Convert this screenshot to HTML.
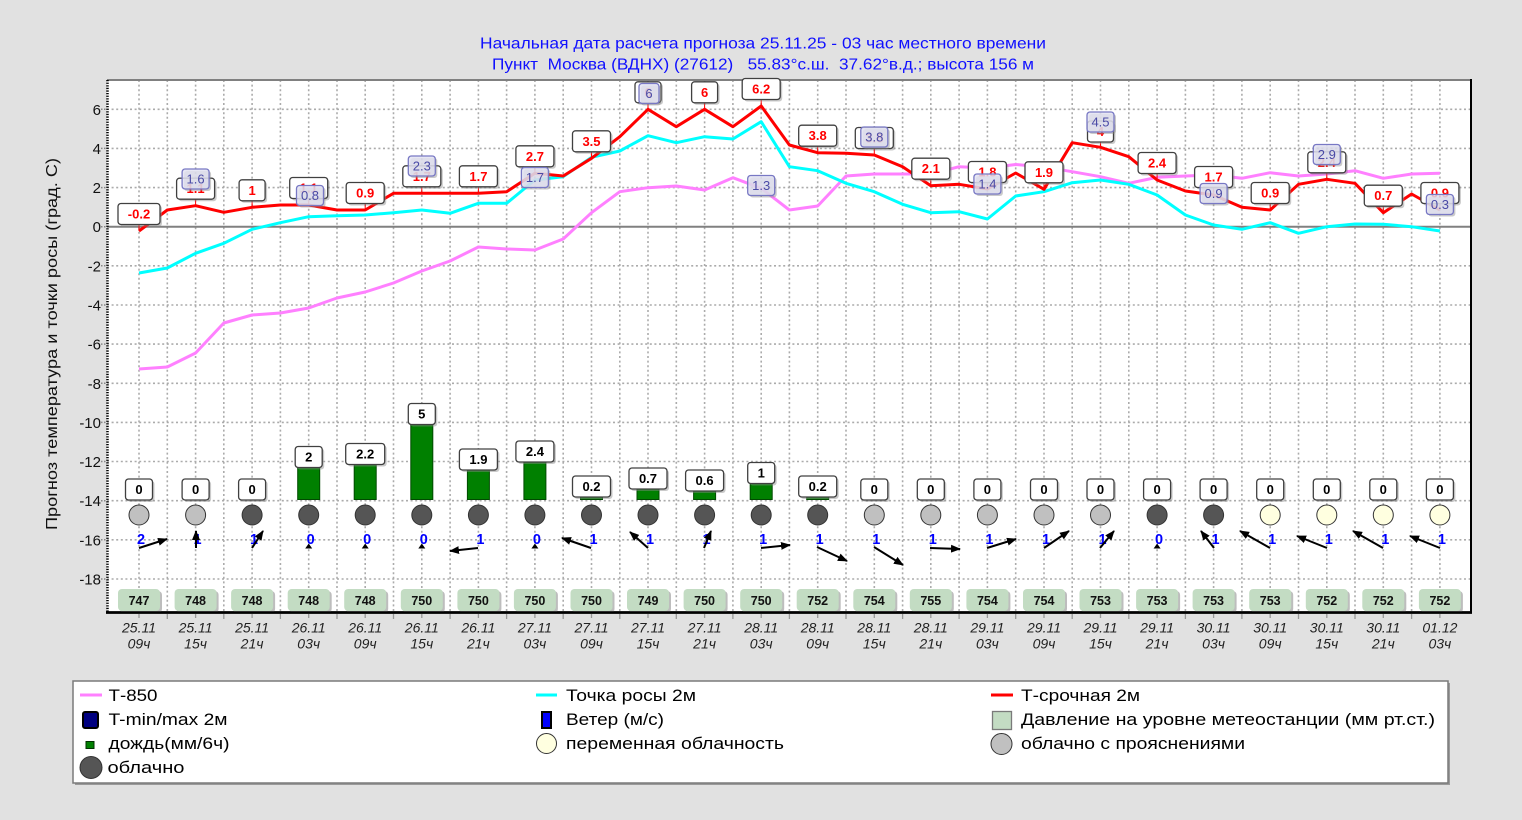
<!DOCTYPE html>
<html><head><meta charset="utf-8">
<style>
html,body{margin:0;padding:0;background:#e1e1e1;}
svg{display:block;font-family:"Liberation Sans",Arial,sans-serif;}
.sh{fill:#8a8a8a;opacity:.45}
.rb{fill:#fff;stroke:#404040;stroke-width:1.3}
.rt{fill:#f00;font-size:13px;font-weight:bold;text-anchor:middle}
.bb{fill:#e2e2f2;fill-opacity:.82;stroke:#7878c4;stroke-width:1.3}
.bt{fill:#4a4aa6;font-size:13px;text-anchor:middle}
.pt{fill:#000;font-size:13px;font-weight:bold;text-anchor:middle}
.pr{fill:#c3dcc3;}
.prt{fill:#111;font-size:12.5px;font-weight:bold;text-anchor:middle}
.xl{fill:#222;font-size:14px;font-style:italic;text-anchor:middle}
.yl{fill:#111;font-size:15px;text-anchor:end}
.wn{fill:#0000ff;font-size:14.5px;font-weight:bold;text-anchor:middle}
.lg{fill:#000;font-size:17px}
.cl{fill:#c0c0c0;stroke:#333;stroke-width:1}
.cd{fill:#555;stroke:#333;stroke-width:1}
.cy{fill:#ffffe0;stroke:#333;stroke-width:1}
.ar{stroke:#000;stroke-width:2;marker-end:url(#ah)}
</style></head>
<body>
<svg width="1522" height="820" viewBox="0 0 1522 820" xmlns="http://www.w3.org/2000/svg">
<defs>
<marker id="ah" markerUnits="userSpaceOnUse" markerWidth="10" markerHeight="8" refX="9" refY="4" orient="auto"><path d="M0,0 L10,4 L0,8 z" fill="#000"/></marker>
</defs>
<rect x="0" y="0" width="1522" height="820" fill="#e1e1e1"/>

<!-- title -->
<text x="763" y="48.5" font-size="16" fill="#1010ff" text-anchor="middle" textLength="566" lengthAdjust="spacingAndGlyphs">Начальная дата расчета прогноза 25.11.25 - 03 час местного времени</text>
<text x="763" y="69.5" font-size="16" fill="#1010ff" text-anchor="middle" textLength="542" lengthAdjust="spacingAndGlyphs" style="white-space:pre">Пункт  Москва (ВДНХ) (27612)   55.83°с.ш.  37.62°в.д.; высота 156 м</text>

<!-- plot area -->
<rect x="107" y="80" width="1364" height="532" fill="#fff"/>

<!-- grid -->
<path d="M107 109.3H1471M107 148.4H1471M107 187.6H1471M107 265.8H1471M107 305H1471M107 344.1H1471M107 383.3H1471M107 422.4H1471M107 461.5H1471M107 500.7H1471M107 539.8H1471M107 579H1471" stroke="#ababab" stroke-width="1.6" stroke-dasharray="2 2.6" fill="none"/>
<path d="M139 80V612M167.3 80V612M195.6 80V612M223.8 80V612M252.1 80V612M280.4 80V612M308.7 80V612M337 80V612M365.2 80V612M393.5 80V612M421.8 80V612M450.1 80V612M478.4 80V612M506.6 80V612M534.9 80V612M563.2 80V612M591.5 80V612M619.8 80V612M648 80V612M676.3 80V612M704.6 80V612M732.9 80V612M761.2 80V612M789.4 80V612M817.7 80V612M846 80V612M874.3 80V612M902.6 80V612M930.8 80V612M959.1 80V612M987.4 80V612M1015.7 80V612M1044 80V612M1072.2 80V612M1100.5 80V612M1128.8 80V612M1157.1 80V612M1185.4 80V612M1213.6 80V612M1241.9 80V612M1270.2 80V612M1298.5 80V612M1326.8 80V612M1355 80V612M1383.3 80V612M1411.6 80V612M1439.9 80V612" stroke="#ababab" stroke-width="1.6" stroke-dasharray="2 2.6" fill="none"/>
<line x1="107" y1="226.7" x2="1471" y2="226.7" stroke="#808080" stroke-width="2"/>

<!-- axes -->
<line x1="107" y1="80" x2="1471" y2="80" stroke="#808080" stroke-width="2"/>
<line x1="1471" y1="79" x2="1471" y2="613" stroke="#000" stroke-width="2"/>
<line x1="107.5" y1="80" x2="107.5" y2="613" stroke="#000" stroke-width="2.5" stroke-dasharray="1.3 1.3"/>
<line x1="106" y1="612.5" x2="1472" y2="612.5" stroke="#000" stroke-width="2.5"/>
<path d="M101 109.3H107M101 148.4H107M101 187.6H107M101 226.7H107M101 265.8H107M101 305H107M101 344.1H107M101 383.3H107M101 422.4H107M101 461.5H107M101 500.7H107M101 539.8H107M101 579H107" stroke="#888" stroke-width="1.5" stroke-dasharray="1.5 1.5"/>
<path d="M139 614v4M167.3 614v5M195.6 614v4M223.8 614v5M252.1 614v4M280.4 614v5M308.7 614v4M337 614v5M365.2 614v4M393.5 614v5M421.8 614v4M450.1 614v5M478.4 614v4M506.6 614v5M534.9 614v4M563.2 614v5M591.5 614v4M619.8 614v5M648 614v4M676.3 614v5M704.6 614v4M732.9 614v5M761.2 614v4M789.4 614v5M817.7 614v4M846 614v5M874.3 614v4M902.6 614v5M930.8 614v4M959.1 614v5M987.4 614v4M1015.7 614v5M1044 614v4M1072.2 614v5M1100.5 614v4M1128.8 614v5M1157.1 614v4M1185.4 614v5M1213.6 614v4M1241.9 614v5M1270.2 614v4M1298.5 614v5M1326.8 614v4M1355 614v5M1383.3 614v4M1411.6 614v5M1439.9 614v4" stroke="#999" stroke-width="1.3"/>

<!-- y tick labels -->
<text class="yl" x="101" y="114.8">6</text>
<text class="yl" x="101" y="153.9">4</text>
<text class="yl" x="101" y="193.1">2</text>
<text class="yl" x="101" y="232.2">0</text>
<text class="yl" x="101" y="271.3">-2</text>
<text class="yl" x="101" y="310.5">-4</text>
<text class="yl" x="101" y="349.6">-6</text>
<text class="yl" x="101" y="388.8">-8</text>
<text class="yl" x="101" y="427.9">-10</text>
<text class="yl" x="101" y="467">-12</text>
<text class="yl" x="101" y="506.2">-14</text>
<text class="yl" x="101" y="545.3">-16</text>
<text class="yl" x="101" y="584.5">-18</text>

<!-- y axis title -->
<text transform="translate(57,344) rotate(-90)" font-size="16" fill="#111" text-anchor="middle" textLength="372" lengthAdjust="spacingAndGlyphs">Прогноз температура и точки росы (град. С)</text>

<!-- series -->
<polyline fill="none" stroke="#ff80ff" stroke-width="3" stroke-linejoin="round" points="139,369 167.3,367 195.6,353 223.8,323 252.1,315 280.4,313 308.7,308 337,298 365.2,292 393.5,283 421.8,271 450.1,261 478.4,247 506.6,249 534.9,250 563.2,239 591.5,212.7 619.8,191.7 648,187.7 676.3,186 704.6,190 732.9,177.7 761.2,188.3 789.4,210 817.7,206 846,176 874.3,174 902.6,174 930.8,174 959.1,166.7 987.4,168 1015.7,164.5 1044,167 1072.2,171.7 1100.5,176.7 1128.8,183.3 1157.1,177.3 1185.4,176 1213.6,175 1241.9,178.3 1270.2,172.7 1298.5,176 1326.8,174 1355,170.7 1383.3,178.3 1411.6,174 1439.9,173.3"/>
<polyline fill="none" stroke="#00ffff" stroke-width="3" stroke-linejoin="round" points="139,273 167.3,268 195.6,253.3 223.8,243.3 252.1,229.3 280.4,222.7 308.7,216.7 337,215.7 365.2,215 393.5,212.7 421.8,210 450.1,213.3 478.4,203.3 506.6,203.3 534.9,180 563.2,176.7 591.5,157.3 619.8,151 648,135.7 676.3,142.7 704.6,136.7 732.9,139 761.2,121.7 789.4,166.7 817.7,170.7 846,183.3 874.3,191.7 902.6,204.3 930.8,212.7 959.1,211.7 987.4,219 1015.7,196 1044,191.7 1072.2,182.7 1100.5,180 1128.8,184.3 1157.1,195 1185.4,215 1213.6,225 1241.9,229.3 1270.2,222.7 1298.5,233.3 1326.8,226.7 1355,224 1383.3,224.3 1411.6,226.7 1439.9,231"/>
<polyline fill="none" stroke="#ff0000" stroke-width="3" stroke-linejoin="round" points="139,231 167.3,210 195.6,205.7 223.8,212.3 252.1,207.3 280.4,205 308.7,205 337,210 365.2,210 393.5,193.3 421.8,193.3 450.1,193.3 478.4,193.3 506.6,191.7 534.9,173.3 563.2,176 591.5,158.3 619.8,136.7 648,109.3 676.3,126.7 704.6,109.3 732.9,126.7 761.2,106 789.4,145 817.7,152.7 846,153.3 874.3,155 902.6,166.7 930.8,185.7 959.1,184.3 987.4,189 1015.7,173 1044,189.3 1072.2,142.7 1100.5,147.3 1128.8,156.7 1157.1,180 1185.4,191 1213.6,195 1241.9,207.3 1270.2,210 1298.5,184.3 1326.8,179.3 1355,183.3 1383.3,212.7 1411.6,194 1439.9,210"/>

<!-- red connectors -->
<path d="M139 224.5V231M195.6 199.2V205.7M252.1 200.8V207.3M308.7 198.5V205M365.2 203.5V210M421.8 186.8V193.3M478.4 186.8V193.3M534.9 166.8V173.3M591.5 151.8V158.3M648 102.8V109.3M704.6 102.8V109.3M761.2 99.5V106M817.7 146.2V152.7M874.3 148.5V155M930.8 179.2V185.7M987.4 182.5V189M1044 182.8V189.3M1100.5 142V147.3M1157.1 173.5V180M1213.6 187.5V195M1270.2 203.5V210M1326.8 172.8V179.3M1383.3 206.2V212.7M1439.9 203.5V210" stroke="#f00" stroke-width="1"/>

<!-- red labels -->
<g>
<rect class="sh" x="120" y="205.5" width="42" height="21" rx="3"/><rect class="rb" x="118" y="203.5" width="42" height="21" rx="3"/><text class="rt" x="139" y="218.5">-0.2</text>
<rect class="sh" x="178.6" y="180.2" width="38" height="21" rx="3"/><rect class="rb" x="176.6" y="178.2" width="38" height="21" rx="3"/><text class="rt" x="195.6" y="193.2">1.1</text>
<rect class="sh" x="241.1" y="181.8" width="26" height="21" rx="3"/><rect class="rb" x="239.1" y="179.8" width="26" height="21" rx="3"/><text class="rt" x="252.1" y="194.8">1</text>
<rect class="sh" x="291.7" y="179.5" width="38" height="21" rx="3"/><rect class="rb" x="289.7" y="177.5" width="38" height="21" rx="3"/><text class="rt" x="308.7" y="192.5">1.1</text>
<rect class="sh" x="348.2" y="184.5" width="38" height="21" rx="3"/><rect class="rb" x="346.2" y="182.5" width="38" height="21" rx="3"/><text class="rt" x="365.2" y="197.5">0.9</text>
<rect class="sh" x="404.8" y="167.8" width="38" height="21" rx="3"/><rect class="rb" x="402.8" y="165.8" width="38" height="21" rx="3"/><text class="rt" x="421.8" y="180.8">1.7</text>
<rect class="sh" x="461.4" y="167.8" width="38" height="21" rx="3"/><rect class="rb" x="459.4" y="165.8" width="38" height="21" rx="3"/><text class="rt" x="478.4" y="180.8">1.7</text>
<rect class="sh" x="517.9" y="147.8" width="38" height="21" rx="3"/><rect class="rb" x="515.9" y="145.8" width="38" height="21" rx="3"/><text class="rt" x="534.9" y="160.8">2.7</text>
<rect class="sh" x="574.5" y="132.8" width="38" height="21" rx="3"/><rect class="rb" x="572.5" y="130.8" width="38" height="21" rx="3"/><text class="rt" x="591.5" y="145.8">3.5</text>
<rect class="sh" x="637" y="83.8" width="26" height="21" rx="3"/><rect class="rb" x="635" y="81.8" width="26" height="21" rx="3"/><text class="rt" x="648" y="96.8">6</text>
<rect class="sh" x="693.6" y="83.8" width="26" height="21" rx="3"/><rect class="rb" x="691.6" y="81.8" width="26" height="21" rx="3"/><text class="rt" x="704.6" y="96.8">6</text>
<rect class="sh" x="744.2" y="80.5" width="38" height="21" rx="3"/><rect class="rb" x="742.2" y="78.5" width="38" height="21" rx="3"/><text class="rt" x="761.2" y="93.5">6.2</text>
<rect class="sh" x="800.7" y="127.2" width="38" height="21" rx="3"/><rect class="rb" x="798.7" y="125.2" width="38" height="21" rx="3"/><text class="rt" x="817.7" y="140.2">3.8</text>
<rect class="sh" x="857.3" y="129.5" width="38" height="21" rx="3"/><rect class="rb" x="855.3" y="127.5" width="38" height="21" rx="3"/><text class="rt" x="874.3" y="142.5">3.8</text>
<rect class="sh" x="913.8" y="160.2" width="38" height="21" rx="3"/><rect class="rb" x="911.8" y="158.2" width="38" height="21" rx="3"/><text class="rt" x="930.8" y="173.2">2.1</text>
<rect class="sh" x="970.4" y="163.5" width="38" height="21" rx="3"/><rect class="rb" x="968.4" y="161.5" width="38" height="21" rx="3"/><text class="rt" x="987.4" y="176.5">1.8</text>
<rect class="sh" x="1027" y="163.8" width="38" height="21" rx="3"/><rect class="rb" x="1025" y="161.8" width="38" height="21" rx="3"/><text class="rt" x="1044" y="176.8">1.9</text>
<rect class="sh" x="1089.5" y="123" width="26" height="21" rx="3"/><rect class="rb" x="1087.5" y="121" width="26" height="21" rx="3"/><text class="rt" x="1100.5" y="136">4</text>
<rect class="sh" x="1140.1" y="154.5" width="38" height="21" rx="3"/><rect class="rb" x="1138.1" y="152.5" width="38" height="21" rx="3"/><text class="rt" x="1157.1" y="167.5">2.4</text>
<rect class="sh" x="1196.6" y="168.5" width="38" height="21" rx="3"/><rect class="rb" x="1194.6" y="166.5" width="38" height="21" rx="3"/><text class="rt" x="1213.6" y="181.5">1.7</text>
<rect class="sh" x="1253.2" y="184.5" width="38" height="21" rx="3"/><rect class="rb" x="1251.2" y="182.5" width="38" height="21" rx="3"/><text class="rt" x="1270.2" y="197.5">0.9</text>
<rect class="sh" x="1309.8" y="153.8" width="38" height="21" rx="3"/><rect class="rb" x="1307.8" y="151.8" width="38" height="21" rx="3"/><text class="rt" x="1326.8" y="166.8">2.4</text>
<rect class="sh" x="1366.3" y="187.2" width="38" height="21" rx="3"/><rect class="rb" x="1364.3" y="185.2" width="38" height="21" rx="3"/><text class="rt" x="1383.3" y="200.2">0.7</text>
<rect class="sh" x="1422.9" y="184.5" width="38" height="21" rx="3"/><rect class="rb" x="1420.9" y="182.5" width="38" height="21" rx="3"/><text class="rt" x="1439.9" y="197.5">0.9</text>
</g>

<!-- blue min/max labels -->
<g>
<rect class="sh" x="184.1" y="171" width="27" height="20" rx="3"/><rect class="bb" x="182.1" y="169" width="27" height="20" rx="3"/><text class="bt" x="195.6" y="183.5">1.6</text>
<rect class="sh" x="298.5" y="187.5" width="27" height="20" rx="3"/><rect class="bb" x="296.5" y="185.5" width="27" height="20" rx="3"/><text class="bt" x="310" y="200">0.8</text>
<rect class="sh" x="410.3" y="158" width="27" height="20" rx="3"/><rect class="bb" x="408.3" y="156" width="27" height="20" rx="3"/><text class="bt" x="421.8" y="170.5">2.3</text>
<rect class="sh" x="523.4" y="169.5" width="27" height="20" rx="3"/><rect class="bb" x="521.4" y="167.5" width="27" height="20" rx="3"/><text class="bt" x="534.9" y="182">1.7</text>
<rect class="sh" x="641" y="85.5" width="20" height="20" rx="3"/><rect class="bb" x="639" y="83.5" width="20" height="20" rx="3"/><text class="bt" x="649" y="98">6</text>
<rect class="sh" x="749.7" y="177.5" width="27" height="20" rx="3"/><rect class="bb" x="747.7" y="175.5" width="27" height="20" rx="3"/><text class="bt" x="761.2" y="190">1.3</text>
<rect class="sh" x="862.8" y="129" width="27" height="20" rx="3"/><rect class="bb" x="860.8" y="127" width="27" height="20" rx="3"/><text class="bt" x="874.3" y="141.5">3.8</text>
<rect class="sh" x="975.9" y="176" width="27" height="20" rx="3"/><rect class="bb" x="973.9" y="174" width="27" height="20" rx="3"/><text class="bt" x="987.4" y="188.5">1.4</text>
<rect class="sh" x="1089" y="114" width="27" height="20" rx="3"/><rect class="bb" x="1087" y="112" width="27" height="20" rx="3"/><text class="bt" x="1100.5" y="126.5">4.5</text>
<rect class="sh" x="1202.1" y="185.5" width="27" height="20" rx="3"/><rect class="bb" x="1200.1" y="183.5" width="27" height="20" rx="3"/><text class="bt" x="1213.6" y="198">0.9</text>
<rect class="sh" x="1315.3" y="146.5" width="27" height="20" rx="3"/><rect class="bb" x="1313.3" y="144.5" width="27" height="20" rx="3"/><text class="bt" x="1326.8" y="159">2.9</text>
<rect class="sh" x="1428.4" y="196.5" width="27" height="20" rx="3"/><rect class="bb" x="1426.4" y="194.5" width="27" height="20" rx="3"/><text class="bt" x="1439.9" y="209">0.3</text>
</g>

<!-- precipitation bars -->
<g fill="#008000" stroke="#004a00" stroke-width="1">
<rect x="297.7" y="467.5" width="22" height="32"/>
<rect x="354.2" y="464.5" width="22" height="35"/>
<rect x="410.8" y="424.5" width="22" height="75"/>
<rect x="467.4" y="470" width="22" height="29.5"/>
<rect x="523.9" y="462" width="22" height="37.5"/>
<rect x="580.5" y="496" width="22" height="3.5"/>
<rect x="637" y="488" width="22" height="11.5"/>
<rect x="693.6" y="490" width="22" height="9.5"/>
<rect x="750.2" y="483.5" width="22" height="16"/>
<rect x="806.7" y="496" width="22" height="3.5"/>
</g>

<!-- precipitation labels -->
<g>
<rect class="sh" x="127.5" y="481" width="27" height="21" rx="3"/><rect class="rb" x="125.5" y="479" width="27" height="21" rx="3"/><text class="pt" x="139" y="494">0</text>
<rect class="sh" x="184.1" y="481" width="27" height="21" rx="3"/><rect class="rb" x="182.1" y="479" width="27" height="21" rx="3"/><text class="pt" x="195.6" y="494">0</text>
<rect class="sh" x="240.6" y="481" width="27" height="21" rx="3"/><rect class="rb" x="238.6" y="479" width="27" height="21" rx="3"/><text class="pt" x="252.1" y="494">0</text>
<rect class="sh" x="297.2" y="448.5" width="27" height="21" rx="3"/><rect class="rb" x="295.2" y="446.5" width="27" height="21" rx="3"/><text class="pt" x="308.7" y="461.5">2</text>
<rect class="sh" x="347.7" y="445.5" width="39" height="21" rx="3"/><rect class="rb" x="345.7" y="443.5" width="39" height="21" rx="3"/><text class="pt" x="365.2" y="458.5">2.2</text>
<rect class="sh" x="410.3" y="405.5" width="27" height="21" rx="3"/><rect class="rb" x="408.3" y="403.5" width="27" height="21" rx="3"/><text class="pt" x="421.8" y="418.5">5</text>
<rect class="sh" x="461.4" y="451" width="38" height="21" rx="3"/><rect class="rb" x="459.4" y="449" width="38" height="21" rx="3"/><text class="pt" x="478.4" y="464">1.9</text>
<rect class="sh" x="517.9" y="443" width="38" height="21" rx="3"/><rect class="rb" x="515.9" y="441" width="38" height="21" rx="3"/><text class="pt" x="534.9" y="456">2.4</text>
<rect class="sh" x="574.5" y="478" width="38" height="21" rx="3"/><rect class="rb" x="572.5" y="476" width="38" height="21" rx="3"/><text class="pt" x="591.5" y="491">0.2</text>
<rect class="sh" x="631" y="470" width="38" height="21" rx="3"/><rect class="rb" x="629" y="468" width="38" height="21" rx="3"/><text class="pt" x="648" y="483">0.7</text>
<rect class="sh" x="687.6" y="472" width="38" height="21" rx="3"/><rect class="rb" x="685.6" y="470" width="38" height="21" rx="3"/><text class="pt" x="704.6" y="485">0.6</text>
<rect class="sh" x="749.7" y="464.5" width="27" height="21" rx="3"/><rect class="rb" x="747.7" y="462.5" width="27" height="21" rx="3"/><text class="pt" x="761.2" y="477.5">1</text>
<rect class="sh" x="800.7" y="478" width="38" height="21" rx="3"/><rect class="rb" x="798.7" y="476" width="38" height="21" rx="3"/><text class="pt" x="817.7" y="491">0.2</text>
<rect class="sh" x="862.8" y="481" width="27" height="21" rx="3"/><rect class="rb" x="860.8" y="479" width="27" height="21" rx="3"/><text class="pt" x="874.3" y="494">0</text>
<rect class="sh" x="919.3" y="481" width="27" height="21" rx="3"/><rect class="rb" x="917.3" y="479" width="27" height="21" rx="3"/><text class="pt" x="930.8" y="494">0</text>
<rect class="sh" x="975.9" y="481" width="27" height="21" rx="3"/><rect class="rb" x="973.9" y="479" width="27" height="21" rx="3"/><text class="pt" x="987.4" y="494">0</text>
<rect class="sh" x="1032.5" y="481" width="27" height="21" rx="3"/><rect class="rb" x="1030.5" y="479" width="27" height="21" rx="3"/><text class="pt" x="1044" y="494">0</text>
<rect class="sh" x="1089" y="481" width="27" height="21" rx="3"/><rect class="rb" x="1087" y="479" width="27" height="21" rx="3"/><text class="pt" x="1100.5" y="494">0</text>
<rect class="sh" x="1145.6" y="481" width="27" height="21" rx="3"/><rect class="rb" x="1143.6" y="479" width="27" height="21" rx="3"/><text class="pt" x="1157.1" y="494">0</text>
<rect class="sh" x="1202.1" y="481" width="27" height="21" rx="3"/><rect class="rb" x="1200.1" y="479" width="27" height="21" rx="3"/><text class="pt" x="1213.6" y="494">0</text>
<rect class="sh" x="1258.7" y="481" width="27" height="21" rx="3"/><rect class="rb" x="1256.7" y="479" width="27" height="21" rx="3"/><text class="pt" x="1270.2" y="494">0</text>
<rect class="sh" x="1315.3" y="481" width="27" height="21" rx="3"/><rect class="rb" x="1313.3" y="479" width="27" height="21" rx="3"/><text class="pt" x="1326.8" y="494">0</text>
<rect class="sh" x="1371.8" y="481" width="27" height="21" rx="3"/><rect class="rb" x="1369.8" y="479" width="27" height="21" rx="3"/><text class="pt" x="1383.3" y="494">0</text>
<rect class="sh" x="1428.4" y="481" width="27" height="21" rx="3"/><rect class="rb" x="1426.4" y="479" width="27" height="21" rx="3"/><text class="pt" x="1439.9" y="494">0</text>
</g>

<!-- clouds -->
<g>
<circle class="cl" cx="139" cy="515" r="10"/>
<circle class="cl" cx="195.6" cy="515" r="10"/>
<circle class="cd" cx="252.1" cy="515" r="10"/>
<circle class="cd" cx="308.7" cy="515" r="10"/>
<circle class="cd" cx="365.2" cy="515" r="10"/>
<circle class="cd" cx="421.8" cy="515" r="10"/>
<circle class="cd" cx="478.4" cy="515" r="10"/>
<circle class="cd" cx="534.9" cy="515" r="10"/>
<circle class="cd" cx="591.5" cy="515" r="10"/>
<circle class="cd" cx="648" cy="515" r="10"/>
<circle class="cd" cx="704.6" cy="515" r="10"/>
<circle class="cd" cx="761.2" cy="515" r="10"/>
<circle class="cd" cx="817.7" cy="515" r="10"/>
<circle class="cl" cx="874.3" cy="515" r="10"/>
<circle class="cl" cx="930.8" cy="515" r="10"/>
<circle class="cl" cx="987.4" cy="515" r="10"/>
<circle class="cl" cx="1044" cy="515" r="10"/>
<circle class="cl" cx="1100.5" cy="515" r="10"/>
<circle class="cd" cx="1157.1" cy="515" r="10"/>
<circle class="cd" cx="1213.6" cy="515" r="10"/>
<circle class="cy" cx="1270.2" cy="515" r="10"/>
<circle class="cy" cx="1326.8" cy="515" r="10"/>
<circle class="cy" cx="1383.3" cy="515" r="10"/>
<circle class="cy" cx="1439.9" cy="515" r="10"/>
</g>

<!-- wind numbers -->
<g>
<text class="wn" x="141" y="544">2</text>
<text class="wn" x="197.6" y="544">1</text>
<text class="wn" x="254.1" y="544">1</text>
<text class="wn" x="310.7" y="544">0</text>
<text class="wn" x="367.2" y="544">0</text>
<text class="wn" x="423.8" y="544">0</text>
<text class="wn" x="480.4" y="544">1</text>
<text class="wn" x="536.9" y="544">0</text>
<text class="wn" x="593.5" y="544">1</text>
<text class="wn" x="650" y="544">1</text>
<text class="wn" x="706.6" y="544">1</text>
<text class="wn" x="763.2" y="544">1</text>
<text class="wn" x="819.7" y="544">1</text>
<text class="wn" x="876.3" y="544">1</text>
<text class="wn" x="932.8" y="544">1</text>
<text class="wn" x="989.4" y="544">1</text>
<text class="wn" x="1046" y="544">1</text>
<text class="wn" x="1102.5" y="544">1</text>
<text class="wn" x="1159.1" y="544">0</text>
<text class="wn" x="1215.6" y="544">1</text>
<text class="wn" x="1272.2" y="544">1</text>
<text class="wn" x="1328.8" y="544">1</text>
<text class="wn" x="1385.3" y="544">1</text>
<text class="wn" x="1441.9" y="544">1</text>
</g>

<!-- wind arrows -->
<g fill="none">
<line class="ar" x1="139" y1="548" x2="167" y2="539"/>
<line class="ar" x1="196" y1="548" x2="196" y2="531"/>
<line class="ar" x1="252" y1="548" x2="263" y2="531"/>
<line class="ar" x1="478" y1="548" x2="450" y2="551"/>
<line class="ar" x1="591" y1="548" x2="562" y2="538"/>
<line class="ar" x1="648" y1="548" x2="630" y2="532"/>
<line class="ar" x1="704" y1="548" x2="711" y2="531"/>
<line class="ar" x1="761" y1="548" x2="790" y2="545"/>
<line class="ar" x1="817" y1="547" x2="847" y2="561"/>
<line class="ar" x1="874" y1="547" x2="903" y2="565"/>
<line class="ar" x1="930" y1="548" x2="960" y2="549"/>
<line class="ar" x1="987" y1="548" x2="1016" y2="539"/>
<line class="ar" x1="1044" y1="548" x2="1069" y2="531"/>
<line class="ar" x1="1100" y1="548" x2="1114" y2="531"/>
<line class="ar" x1="1214" y1="548" x2="1201" y2="531"/>
<line class="ar" x1="1270" y1="548" x2="1240" y2="531"/>
<line class="ar" x1="1327" y1="548" x2="1297" y2="536"/>
<line class="ar" x1="1383" y1="548" x2="1353" y2="531"/>
<line class="ar" x1="1440" y1="548" x2="1410" y2="536"/>
</g>
<g fill="#000">
<path d="M305.2 548.5L308.7 543.5L312.2 548.5z"/>
<path d="M361.7 548.5L365.2 543.5L368.7 548.5z"/>
<path d="M418.3 548.5L421.8 543.5L425.3 548.5z"/>
<path d="M531.4 548.5L534.9 543.5L538.4 548.5z"/>
<path d="M1153.6 548.5L1157.1 543.5L1160.6 548.5z"/>
</g>

<!-- pressure -->
<g>
<rect x="120" y="591" width="42" height="22" rx="4" fill="#bdbdbd"/><rect class="pr" x="118" y="589" width="42" height="22" rx="4"/><text class="prt" x="139" y="605">747</text>
<rect x="176.6" y="591" width="42" height="22" rx="4" fill="#bdbdbd"/><rect class="pr" x="174.6" y="589" width="42" height="22" rx="4"/><text class="prt" x="195.6" y="605">748</text>
<rect x="233.1" y="591" width="42" height="22" rx="4" fill="#bdbdbd"/><rect class="pr" x="231.1" y="589" width="42" height="22" rx="4"/><text class="prt" x="252.1" y="605">748</text>
<rect x="289.7" y="591" width="42" height="22" rx="4" fill="#bdbdbd"/><rect class="pr" x="287.7" y="589" width="42" height="22" rx="4"/><text class="prt" x="308.7" y="605">748</text>
<rect x="346.2" y="591" width="42" height="22" rx="4" fill="#bdbdbd"/><rect class="pr" x="344.2" y="589" width="42" height="22" rx="4"/><text class="prt" x="365.2" y="605">748</text>
<rect x="402.8" y="591" width="42" height="22" rx="4" fill="#bdbdbd"/><rect class="pr" x="400.8" y="589" width="42" height="22" rx="4"/><text class="prt" x="421.8" y="605">750</text>
<rect x="459.4" y="591" width="42" height="22" rx="4" fill="#bdbdbd"/><rect class="pr" x="457.4" y="589" width="42" height="22" rx="4"/><text class="prt" x="478.4" y="605">750</text>
<rect x="515.9" y="591" width="42" height="22" rx="4" fill="#bdbdbd"/><rect class="pr" x="513.9" y="589" width="42" height="22" rx="4"/><text class="prt" x="534.9" y="605">750</text>
<rect x="572.5" y="591" width="42" height="22" rx="4" fill="#bdbdbd"/><rect class="pr" x="570.5" y="589" width="42" height="22" rx="4"/><text class="prt" x="591.5" y="605">750</text>
<rect x="629" y="591" width="42" height="22" rx="4" fill="#bdbdbd"/><rect class="pr" x="627" y="589" width="42" height="22" rx="4"/><text class="prt" x="648" y="605">749</text>
<rect x="685.6" y="591" width="42" height="22" rx="4" fill="#bdbdbd"/><rect class="pr" x="683.6" y="589" width="42" height="22" rx="4"/><text class="prt" x="704.6" y="605">750</text>
<rect x="742.2" y="591" width="42" height="22" rx="4" fill="#bdbdbd"/><rect class="pr" x="740.2" y="589" width="42" height="22" rx="4"/><text class="prt" x="761.2" y="605">750</text>
<rect x="798.7" y="591" width="42" height="22" rx="4" fill="#bdbdbd"/><rect class="pr" x="796.7" y="589" width="42" height="22" rx="4"/><text class="prt" x="817.7" y="605">752</text>
<rect x="855.3" y="591" width="42" height="22" rx="4" fill="#bdbdbd"/><rect class="pr" x="853.3" y="589" width="42" height="22" rx="4"/><text class="prt" x="874.3" y="605">754</text>
<rect x="911.8" y="591" width="42" height="22" rx="4" fill="#bdbdbd"/><rect class="pr" x="909.8" y="589" width="42" height="22" rx="4"/><text class="prt" x="930.8" y="605">755</text>
<rect x="968.4" y="591" width="42" height="22" rx="4" fill="#bdbdbd"/><rect class="pr" x="966.4" y="589" width="42" height="22" rx="4"/><text class="prt" x="987.4" y="605">754</text>
<rect x="1025" y="591" width="42" height="22" rx="4" fill="#bdbdbd"/><rect class="pr" x="1023" y="589" width="42" height="22" rx="4"/><text class="prt" x="1044" y="605">754</text>
<rect x="1081.5" y="591" width="42" height="22" rx="4" fill="#bdbdbd"/><rect class="pr" x="1079.5" y="589" width="42" height="22" rx="4"/><text class="prt" x="1100.5" y="605">753</text>
<rect x="1138.1" y="591" width="42" height="22" rx="4" fill="#bdbdbd"/><rect class="pr" x="1136.1" y="589" width="42" height="22" rx="4"/><text class="prt" x="1157.1" y="605">753</text>
<rect x="1194.6" y="591" width="42" height="22" rx="4" fill="#bdbdbd"/><rect class="pr" x="1192.6" y="589" width="42" height="22" rx="4"/><text class="prt" x="1213.6" y="605">753</text>
<rect x="1251.2" y="591" width="42" height="22" rx="4" fill="#bdbdbd"/><rect class="pr" x="1249.2" y="589" width="42" height="22" rx="4"/><text class="prt" x="1270.2" y="605">753</text>
<rect x="1307.8" y="591" width="42" height="22" rx="4" fill="#bdbdbd"/><rect class="pr" x="1305.8" y="589" width="42" height="22" rx="4"/><text class="prt" x="1326.8" y="605">752</text>
<rect x="1364.3" y="591" width="42" height="22" rx="4" fill="#bdbdbd"/><rect class="pr" x="1362.3" y="589" width="42" height="22" rx="4"/><text class="prt" x="1383.3" y="605">752</text>
<rect x="1420.9" y="591" width="42" height="22" rx="4" fill="#bdbdbd"/><rect class="pr" x="1418.9" y="589" width="42" height="22" rx="4"/><text class="prt" x="1439.9" y="605">752</text>
</g>
<line x1="106" y1="612.5" x2="1472" y2="612.5" stroke="#000" stroke-width="2.5"/>

<!-- x labels -->
<g>
<text class="xl" x="139" y="632.5">25.11</text><text class="xl" x="139" y="648.5">09ч</text>
<text class="xl" x="195.6" y="632.5">25.11</text><text class="xl" x="195.6" y="648.5">15ч</text>
<text class="xl" x="252.1" y="632.5">25.11</text><text class="xl" x="252.1" y="648.5">21ч</text>
<text class="xl" x="308.7" y="632.5">26.11</text><text class="xl" x="308.7" y="648.5">03ч</text>
<text class="xl" x="365.2" y="632.5">26.11</text><text class="xl" x="365.2" y="648.5">09ч</text>
<text class="xl" x="421.8" y="632.5">26.11</text><text class="xl" x="421.8" y="648.5">15ч</text>
<text class="xl" x="478.4" y="632.5">26.11</text><text class="xl" x="478.4" y="648.5">21ч</text>
<text class="xl" x="534.9" y="632.5">27.11</text><text class="xl" x="534.9" y="648.5">03ч</text>
<text class="xl" x="591.5" y="632.5">27.11</text><text class="xl" x="591.5" y="648.5">09ч</text>
<text class="xl" x="648" y="632.5">27.11</text><text class="xl" x="648" y="648.5">15ч</text>
<text class="xl" x="704.6" y="632.5">27.11</text><text class="xl" x="704.6" y="648.5">21ч</text>
<text class="xl" x="761.2" y="632.5">28.11</text><text class="xl" x="761.2" y="648.5">03ч</text>
<text class="xl" x="817.7" y="632.5">28.11</text><text class="xl" x="817.7" y="648.5">09ч</text>
<text class="xl" x="874.3" y="632.5">28.11</text><text class="xl" x="874.3" y="648.5">15ч</text>
<text class="xl" x="930.8" y="632.5">28.11</text><text class="xl" x="930.8" y="648.5">21ч</text>
<text class="xl" x="987.4" y="632.5">29.11</text><text class="xl" x="987.4" y="648.5">03ч</text>
<text class="xl" x="1044" y="632.5">29.11</text><text class="xl" x="1044" y="648.5">09ч</text>
<text class="xl" x="1100.5" y="632.5">29.11</text><text class="xl" x="1100.5" y="648.5">15ч</text>
<text class="xl" x="1157.1" y="632.5">29.11</text><text class="xl" x="1157.1" y="648.5">21ч</text>
<text class="xl" x="1213.6" y="632.5">30.11</text><text class="xl" x="1213.6" y="648.5">03ч</text>
<text class="xl" x="1270.2" y="632.5">30.11</text><text class="xl" x="1270.2" y="648.5">09ч</text>
<text class="xl" x="1326.8" y="632.5">30.11</text><text class="xl" x="1326.8" y="648.5">15ч</text>
<text class="xl" x="1383.3" y="632.5">30.11</text><text class="xl" x="1383.3" y="648.5">21ч</text>
<text class="xl" x="1439.9" y="632.5">01.12</text><text class="xl" x="1439.9" y="648.5">03ч</text>
</g>

<!-- legend -->
<rect x="75" y="683" width="1375" height="102" fill="#9a9a9a"/>
<rect x="73" y="681" width="1375" height="102" fill="#fff" stroke="#7a7a7a" stroke-width="1.5"/>
<line x1="80" y1="695" x2="102" y2="695" stroke="#ff80ff" stroke-width="3"/>
<text class="lg" x="108.5" y="701" textLength="49" lengthAdjust="spacingAndGlyphs">Т-850</text>
<rect x="83" y="712" width="15" height="16" rx="2" fill="#000080" stroke="#000" stroke-width="2"/>
<text class="lg" x="108.5" y="725" textLength="119" lengthAdjust="spacingAndGlyphs">T-min/max 2м</text>
<rect x="86" y="741.5" width="8" height="7" fill="#008000" stroke="#003000" stroke-width="1"/>
<text class="lg" x="108.5" y="749" textLength="121" lengthAdjust="spacingAndGlyphs">дождь(мм/6ч)</text>
<circle cx="91" cy="767.5" r="11" fill="#555" stroke="#333" stroke-width="1"/>
<text class="lg" x="107.5" y="773" textLength="77" lengthAdjust="spacingAndGlyphs">облачно</text>

<line x1="536" y1="695" x2="557" y2="695" stroke="#00ffff" stroke-width="3"/>
<text class="lg" x="566" y="701" textLength="130" lengthAdjust="spacingAndGlyphs">Точка росы 2м</text>
<rect x="542" y="712" width="9" height="16" fill="#0000ff" stroke="#000" stroke-width="2"/>
<text class="lg" x="566" y="725" textLength="98" lengthAdjust="spacingAndGlyphs">Ветер (м/с)</text>
<circle cx="546.5" cy="743.5" r="10" fill="#ffffe0" stroke="#333" stroke-width="1"/>
<text class="lg" x="566" y="749" textLength="218" lengthAdjust="spacingAndGlyphs">переменная облачность</text>

<line x1="991" y1="695" x2="1013" y2="695" stroke="#ff0000" stroke-width="3"/>
<text class="lg" x="1021" y="701" textLength="119" lengthAdjust="spacingAndGlyphs">Т-срочная 2м</text>
<rect x="992.5" y="711.5" width="19" height="18" fill="#c3dcc3" stroke="#7a7a7a" stroke-width="1.3"/>
<text class="lg" x="1021" y="725" textLength="414" lengthAdjust="spacingAndGlyphs">Давление на уровне метеостанции (мм рт.ст.)</text>
<circle cx="1001.5" cy="744" r="10.5" fill="#c0c0c0" stroke="#333" stroke-width="1"/>
<text class="lg" x="1021" y="749" textLength="224" lengthAdjust="spacingAndGlyphs">облачно с прояснениями</text>
</svg>
</body></html>
